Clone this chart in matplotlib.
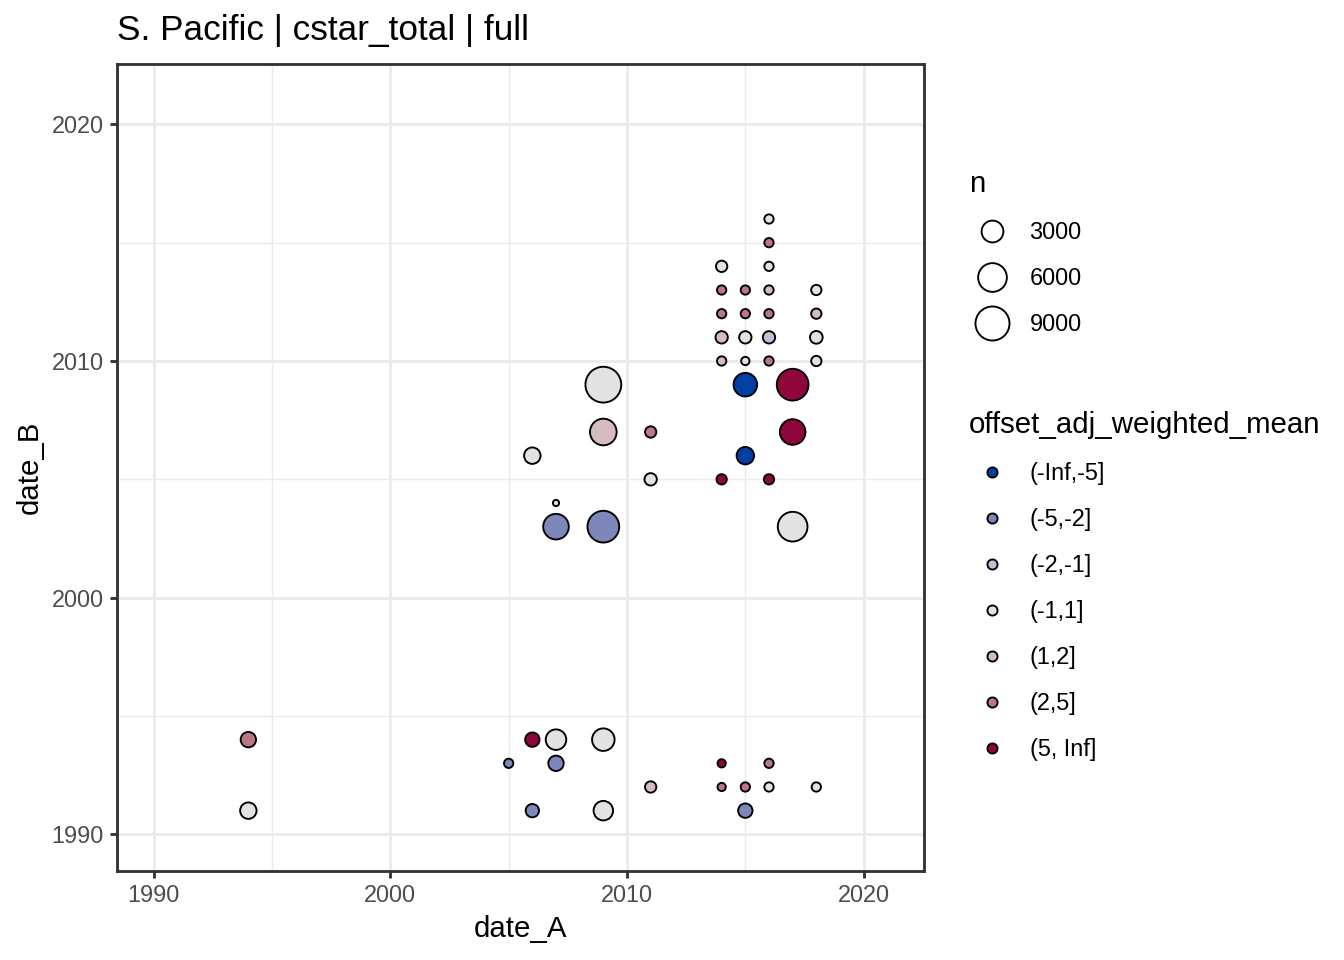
import numpy as np
import matplotlib
matplotlib.use("Agg")
import matplotlib.pyplot as plt
from matplotlib.lines import Line2D

plt.rcParams['font.family'] = ['Liberation Sans', 'DejaVu Sans']

# ---------------- data ----------------
bins = ['(-Inf,-5]', '(-5,-2]', '(-2,-1]', '(-1,1]', '(1,2]', '(2,5]', '(5, Inf]']
bin_colors = ['#023FA5', '#7D87B9', '#BEC1D4', '#E2E2E2', '#D6BCC0', '#BB7784', '#8E063B']

date_A = [2016, 2016, 2014, 2016, 2014, 2015, 2016, 2018, 2014, 2015, 2016, 2018,
          2014, 2015, 2016, 2018, 2014, 2015, 2016, 2018, 2015, 2017, 2017, 2015,
          2014, 2016, 2017,
          2009, 2009, 2011, 2006, 2011, 2007, 2007, 2009,
          1994, 1994, 2006, 2007, 2009, 2005, 2007, 2011, 2014, 2016, 2014, 2015,
          2016, 2018, 2006, 2009, 2015]
date_B = [2016, 2015, 2014, 2014, 2013, 2013, 2013, 2013, 2012, 2012, 2012, 2012,
          2011, 2011, 2011, 2011, 2010, 2010, 2010, 2010, 2009, 2009, 2007, 2006,
          2005, 2005, 2003,
          2009, 2007, 2007, 2006, 2005, 2004, 2003, 2003,
          1994, 1991, 1994, 1994, 1994, 1993, 1993, 1992, 1993, 1993, 1992, 1992,
          1992, 1992, 1991, 1991, 1991]
n = [190, 190, 420, 190, 190, 190, 190, 290, 190, 190, 190, 290,
     564, 564, 564, 620, 190, 110, 190, 290, 3660, 7620, 4520, 1640,
     290, 290, 6500,
     10130, 4980, 420, 1380, 564, 14, 4520, 7620,
     1140, 1380, 926, 2550, 3260, 190, 1140, 420, 107, 190, 107, 190,
     190, 190, 734, 2224, 926]
offset_bin = ['(-1,1]', '(2,5]', '(-1,1]', '(-1,1]', '(2,5]', '(2,5]', '(1,2]', '(-1,1]',
              '(2,5]', '(2,5]', '(2,5]', '(1,2]',
              '(1,2]', '(-1,1]', '(-2,-1]', '(-1,1]', '(1,2]', '(-1,1]', '(2,5]', '(-1,1]',
              '(-Inf,-5]', '(5, Inf]', '(5, Inf]', '(-Inf,-5]',
              '(5, Inf]', '(5, Inf]', '(-1,1]',
              '(-1,1]', '(1,2]', '(2,5]', '(-1,1]', '(-1,1]', '(-1,1]', '(-5,-2]', '(-5,-2]',
              '(2,5]', '(-1,1]', '(5, Inf]', '(-1,1]', '(-1,1]', '(-5,-2]', '(-5,-2]', '(1,2]',
              '(5, Inf]', '(2,5]', '(2,5]', '(2,5]',
              '(-1,1]', '(-1,1]', '(-5,-2]', '(-1,1]', '(-5,-2]']

size_breaks = [3000, 6000, 9000]
x_ticks = [1990, 2000, 2010, 2020]
y_ticks = [1990, 2000, 2010, 2020]
x_minor = [1995, 2005, 2015]
y_minor = [1995, 2005, 2015]
lims = (1988.45, 2022.55)

# ---------------- scales ----------------
DPI = 192
PT_PER_PX = 72.0 / DPI
EDGE_PT = 0.71


def size_px(v):
    v = np.asarray(v, dtype=float)
    return 7.0 + 0.305 * np.sqrt(v)


def marker_pt(v):
    return size_px(v) * PT_PER_PX - EDGE_PT


color_map = dict(zip(bins, bin_colors))

# ---------------- figure ----------------
fig = plt.figure(figsize=(7, 5), dpi=DPI)
ax = fig.add_axes([117 / 1344, 1 - 871 / 960, (924 - 117) / 1344, (871 - 64) / 960])

ax.set_xlim(*lims)
ax.set_ylim(*lims)
ax.set_xticks(x_ticks)
ax.set_yticks(y_ticks)
ax.set_xticks(x_minor, minor=True)
ax.set_yticks(y_minor, minor=True)
ax.grid(True, which='major', color='#EBEBEB', linewidth=1.07, zorder=0)
ax.grid(True, which='minor', color='#EBEBEB', linewidth=0.53, zorder=0)
ax.set_axisbelow(True)
ax.tick_params(which='major', direction='out', length=2.75, width=1.07, color='#333333',
               labelsize=8.8, labelcolor='#4D4D4D', pad=2.2)
ax.tick_params(which='minor', length=0)
for sp in ax.spines.values():
    sp.set_color('#333333')
    sp.set_linewidth(1.07)

cols = [color_map[b] for b in offset_bin]
ms = marker_pt(n)
ax.scatter(date_A, date_B, s=ms ** 2, c=cols, edgecolors='black', linewidths=EDGE_PT, zorder=3)

ax.set_xlabel('date_A', fontsize=11, labelpad=3)
ax.set_ylabel('date_B', fontsize=11, labelpad=3)
ax.set_title('S. Pacific | cstar_total | full', fontsize=13.2, loc='left', pad=9)

# ---------------- legends ----------------
h_size = [Line2D([], [], linestyle='none', marker='o', markersize=float(marker_pt(b)),
                 markerfacecolor='white', markeredgecolor='black', markeredgewidth=EDGE_PT)
          for b in size_breaks]
leg1 = fig.legend(h_size, [str(b) for b in size_breaks], title='n',
                  loc='upper left', bbox_to_anchor=(969 / 1344, 1 - 170 / 960),
                  frameon=False, fontsize=8.8, title_fontsize=11, alignment='left',
                  handlelength=1.96, handletextpad=0.62, labelspacing=0.98,
                  borderpad=0, borderaxespad=0)

h_col = [Line2D([], [], linestyle='none', marker='o', markersize=12 * PT_PER_PX - EDGE_PT,
                markerfacecolor=c, markeredgecolor='black', markeredgewidth=EDGE_PT)
         for c in bin_colors]
leg2 = fig.legend(h_col, bins, title='offset_adj_weighted_mean',
                  loc='upper left', bbox_to_anchor=(969 / 1344, 1 - 411 / 960),
                  frameon=False, fontsize=8.8, title_fontsize=11, alignment='left',
                  handlelength=1.96, handletextpad=0.62, labelspacing=0.98,
                  borderpad=0, borderaxespad=0)

fig.savefig('out.png', dpi=DPI)
